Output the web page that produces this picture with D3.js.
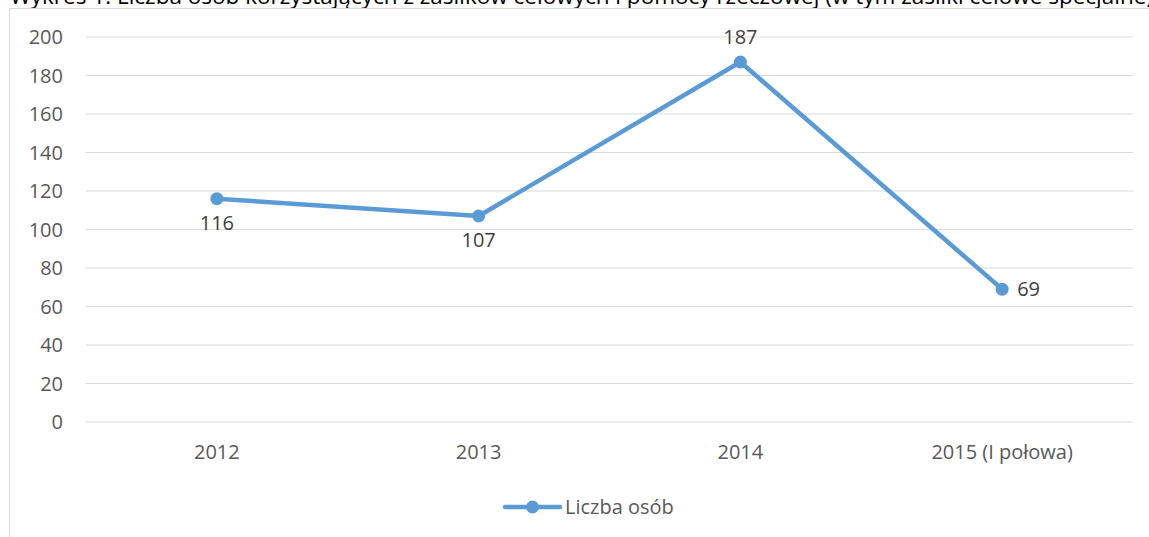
<!DOCTYPE html>
<html>
<head>
<meta charset="utf-8">
<script src="https://cdn.jsdelivr.net/npm/d3@7"></script>
<style>
  body { margin: 0; background: #fff; overflow: hidden; }
  text { font-family: "Open Sans", sans-serif; }
</style>
</head>
<body>
<div class="chart"></div>
<script>
// chart data
const categories = ['2012', '2013', '2014', '2015 (I połowa)'];
const values = [116, 107, 187, 69];
const yTicks = [0, 20, 40, 60, 80, 100, 120, 140, 160, 180, 200];
const labelPos = ['below', 'below', 'above', 'right'];
const seriesName = 'Liczba osób';
const title = 'Wykres 1. Liczba osób korzystających z zasiłków celowych i pomocy rzeczowej (w tym zasiłki celowe specjalne)';

const W = 1149, H = 537;
const blue = '#5B9BD5';
const fs = 20;

const svg = d3.select('div.chart')
  .append('svg')
  .attr('width', W)
  .attr('height', H);

// title, cut off by the top of the window like the original
svg.append('text')
  .attr('x', 10)
  .attr('y', 4)
  .attr('font-size', 22.5)
  .attr('fill', '#000')
  .text(title);

// chart frame
svg.append('rect')
  .attr('x', 9.5).attr('y', 8.5)
  .attr('width', W + 20).attr('height', H + 20)
  .attr('fill', 'none')
  .attr('stroke', '#d9d9d9');

const x = d3.scaleBand()
  .domain(categories)
  .range([86, 1133]);

const y = d3.scaleLinear()
  .domain([0, 200])
  .range([422, 37]);

// gridlines
svg.append('g')
  .selectAll('line')
  .data(yTicks)
  .enter().append('line')
    .attr('x1', 86).attr('x2', 1133)
    .attr('y1', d => y(d)).attr('y2', d => y(d))
    .attr('stroke', '#d9d9d9')
    .attr('stroke-width', 1);

// y labels
svg.append('g')
  .selectAll('text')
  .data(yTicks)
  .enter().append('text')
    .attr('x', 63)
    .attr('y', d => y(d))
    .attr('dy', '0.35em')
    .attr('text-anchor', 'end')
    .attr('font-size', fs)
    .attr('fill', '#595959')
    .text(d => d);

// x labels
svg.append('g')
  .selectAll('text')
  .data(categories)
  .enter().append('text')
    .attr('x', d => x(d) + x.bandwidth() / 2)
    .attr('y', 459)
    .attr('text-anchor', 'middle')
    .attr('font-size', fs)
    .attr('fill', '#595959')
    .text(d => d);

const pts = categories.map((c, i) => ({cat: c, v: values[i], pos: labelPos[i]}));
const cx = d => x(d.cat) + x.bandwidth() / 2;

svg.append('path')
  .datum(pts)
  .attr('d', d3.line().x(cx).y(d => y(d.v)))
  .attr('fill', 'none')
  .attr('stroke', blue)
  .attr('stroke-width', 4.5)
  .attr('stroke-linejoin', 'round')
  .attr('stroke-linecap', 'round');

svg.append('g')
  .selectAll('circle')
  .data(pts)
  .enter().append('circle')
    .attr('cx', cx)
    .attr('cy', d => y(d.v))
    .attr('r', 6.5)
    .attr('fill', blue);

// data labels
svg.append('g')
  .selectAll('text')
  .data(pts)
  .enter().append('text')
    .attr('x', d => d.pos === 'right' ? cx(d) + 15 : cx(d))
    .attr('y', d => d.pos === 'below' ? y(d.v) + 24 : d.pos === 'above' ? y(d.v) - 25 : y(d.v))
    .attr('dy', '0.35em')
    .attr('text-anchor', d => d.pos === 'right' ? 'start' : 'middle')
    .attr('font-size', fs)
    .attr('fill', '#404040')
    .text(d => d.v);

// legend
const lg = svg.append('g').attr('transform', 'translate(505,507)');
lg.append('line')
  .attr('x1', 0).attr('x2', 55)
  .attr('stroke', blue).attr('stroke-width', 4.5)
  .attr('stroke-linecap', 'round');
lg.append('circle').attr('cx', 27.5).attr('r', 6.5).attr('fill', blue);
lg.append('text')
  .attr('x', 60)
  .attr('dy', '0.35em')
  .attr('font-size', fs)
  .attr('fill', '#595959')
  .text(seriesName);
</script>
</body>
</html>
